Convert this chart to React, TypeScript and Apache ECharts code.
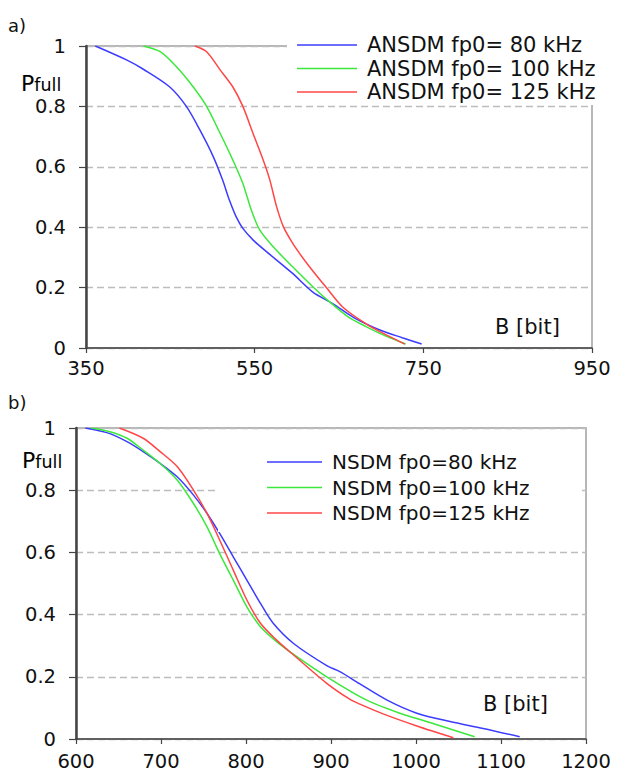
import React, { useEffect, useRef } from "react";
import * as echarts from "echarts";

// ---------- data ----------
const topNames = ["ANSDM fp0= 80 kHz", "ANSDM fp0= 100 kHz", "ANSDM fp0= 125 kHz"];
const botNames = ["NSDM fp0=80 kHz", "NSDM fp0=100 kHz", "NSDM fp0=125 kHz"];
const yTicks = { min: 0, max: 1, step: 0.2 };
const topXTicks = { min: 350, max: 950, step: 200 };
const botXTicks = { min: 600, max: 1200, step: 100 };

const a80X = [361, 398, 418, 449, 469, 485, 501, 512, 520, 528, 536, 548, 564, 595, 619, 643, 668, 700, 725, 748];
const a80Y = [1, 0.954, 0.923, 0.865, 0.8, 0.722, 0.633, 0.556, 0.49, 0.435, 0.396, 0.358, 0.319, 0.247, 0.185, 0.146, 0.1, 0.058, 0.034, 0.013];
const a100X = [418, 438, 457, 477, 493, 509, 524, 536, 546, 556, 572, 595, 619, 635, 660, 682, 705, 729];
const a100Y = [1, 0.981, 0.932, 0.865, 0.8, 0.711, 0.623, 0.545, 0.457, 0.391, 0.335, 0.269, 0.203, 0.162, 0.105, 0.071, 0.04, 0.013];
const a125X = [479, 493, 509, 524, 536, 548, 560, 568, 576, 584, 595, 603, 615, 635, 655, 682, 702, 728];
const a125Y = [1, 0.981, 0.921, 0.865, 0.8, 0.711, 0.623, 0.556, 0.468, 0.402, 0.347, 0.314, 0.269, 0.2, 0.134, 0.08, 0.049, 0.013];

const n80X = [611, 640, 660, 679, 699, 719, 738, 754, 769, 785, 801, 817, 832, 856, 895, 911, 934, 966, 1001, 1040, 1079, 1122];
const n80Y = [1, 0.982, 0.956, 0.924, 0.886, 0.843, 0.785, 0.726, 0.661, 0.586, 0.511, 0.436, 0.372, 0.307, 0.236, 0.216, 0.177, 0.125, 0.083, 0.056, 0.034, 0.007];
const n100X = [618, 640, 660, 679, 699, 719, 738, 754, 769, 785, 801, 817, 836, 856, 895, 942, 981, 1020, 1069];
const n100Y = [1, 0.988, 0.967, 0.929, 0.886, 0.833, 0.758, 0.683, 0.596, 0.511, 0.425, 0.361, 0.313, 0.272, 0.2, 0.125, 0.083, 0.05, 0.007];
const n125X = [651, 679, 699, 719, 738, 754, 769, 785, 801, 817, 836, 856, 895, 922, 934, 962, 1001, 1044];
const n125Y = [1, 0.967, 0.924, 0.876, 0.801, 0.726, 0.64, 0.543, 0.447, 0.372, 0.318, 0.27, 0.179, 0.128, 0.112, 0.08, 0.042, 0.004];

const colors = ["#3c3cff", "#3ce83c", "#ff4646"];

const zip = (xs: number[], ys: number[]) => xs.map((x, i) => [x, ys[i]]);

const FONT = "DejaVu Sans";
const TXT = "#111111";

function xAxisCfg(grid: number, t: { min: number; max: number; step: number }) {
  return {
    type: "value" as const,
    gridIndex: grid,
    min: t.min,
    max: t.max,
    interval: t.step,
    axisLine: { show: true, onZero: false, lineStyle: { color: "#444", width: 1.5 } },
    axisTick: { show: true, length: 5, lineStyle: { color: "#444", width: 1.2 } },
    axisLabel: {
      fontFamily: FONT,
      fontSize: 19.5,
      color: TXT,
      margin: grid === 0 ? 10 : 12,
      formatter: (v: number) => String(v),
    },
    splitLine: { show: false },
  };
}

function yAxisCfg(grid: number) {
  return {
    type: "value" as const,
    gridIndex: grid,
    min: yTicks.min,
    max: yTicks.max,
    interval: yTicks.step,
    axisLine: { show: true, onZero: false, lineStyle: { color: "#444", width: 2.5 } },
    axisTick: { show: true, length: 7, lineStyle: { color: "#444", width: 1.2 } },
    axisLabel: { fontFamily: FONT, fontSize: 19.5, color: TXT, margin: 20 },
    splitLine: { show: true, lineStyle: { color: "#bdbdbd", type: [7, 4], width: 1.3 } },
  };
}

function lineSeries(name: string, xi: number, xs: number[], ys: number[], color: string) {
  return {
    type: "line" as const,
    name,
    xAxisIndex: xi,
    yAxisIndex: xi,
    data: zip(xs, ys),
    symbol: "none",
    smooth: 0.3,
    lineStyle: { width: 1.5, color },
    itemStyle: { color },
  };
}

function legendCfg(
  names: string[],
  left: number,
  top: number,
  itemWidth: number,
  padding: number[],
  gap: number,
  fontSize: number
) {
  return {
    data: names,
    orient: "vertical" as const,
    left,
    top,
    icon: "rect",
    itemWidth,
    itemHeight: 1.6,
    itemGap: gap,
    padding,
    selectedMode: false,
    backgroundColor: "#ffffff",
    textStyle: { fontFamily: FONT, fontSize, color: TXT, lineHeight: 22, padding: [0, 0, 0, 5] },
  };
}

export default function App() {
  const ref = useRef<HTMLDivElement>(null);
  useEffect(() => {
    if (!ref.current) return;
    const chart = echarts.init(ref.current, null, { renderer: "svg" });
    const richP = {
      p: { fontFamily: FONT, fontSize: 22, color: TXT, verticalAlign: "bottom" },
      s: { fontFamily: FONT, fontSize: 17.5, color: TXT, verticalAlign: "bottom" },
    };
    chart.setOption({
      animation: false,
      backgroundColor: "#ffffff",
      grid: [
        { left: 86, top: 46, width: 506, height: 302, show: true, borderColor: "#a0a0a0", borderWidth: 1.5 },
        { left: 76, top: 428, width: 510, height: 311, show: true, borderColor: "#a0a0a0", borderWidth: 1.5 },
      ],
      xAxis: [xAxisCfg(0, topXTicks), xAxisCfg(1, botXTicks)],
      yAxis: [yAxisCfg(0), yAxisCfg(1)],
      legend: [
        legendCfg(topNames, 287, 30, 60, [4, 10, 2, 10], 1.5, 21),
        legendCfg(botNames, 218, 440, 55, [11, 50, 8, 49], 3.5, 20),
      ],
      series: [
        lineSeries(topNames[0], 0, a80X, a80Y, colors[0]),
        lineSeries(topNames[1], 0, a100X, a100Y, colors[1]),
        lineSeries(topNames[2], 0, a125X, a125Y, colors[2]),
        lineSeries(botNames[0], 1, n80X, n80Y, colors[0]),
        lineSeries(botNames[1], 1, n100X, n100Y, colors[1]),
        lineSeries(botNames[2], 1, n125X, n125Y, colors[2]),
      ],
      graphic: [
        { type: "text", x: 8, y: 16, style: { text: "a)", font: `18px '${FONT}'`, fill: TXT } },
        { type: "text", x: 8, y: 393, style: { text: "b)", font: `18px '${FONT}'`, fill: TXT } },
        { type: "text", x: 21, y: 72, style: { text: "{p|P}{s|full}", rich: richP } },
        { type: "text", x: 22, y: 449, style: { text: "{p|P}{s|full}", rich: richP } },
        { type: "text", x: 495, y: 316, style: { text: "B [bit]", font: `21px '${FONT}'`, fill: TXT } },
        { type: "text", x: 483, y: 693, style: { text: "B [bit]", font: `21px '${FONT}'`, fill: TXT } },
      ],
    });
    return () => chart.dispose();
  }, []);
  return (
    <div
      ref={ref}
      style={{ position: "fixed", left: 0, top: 0, width: 619, height: 772, background: "#fff" }}
    />
  );
}
